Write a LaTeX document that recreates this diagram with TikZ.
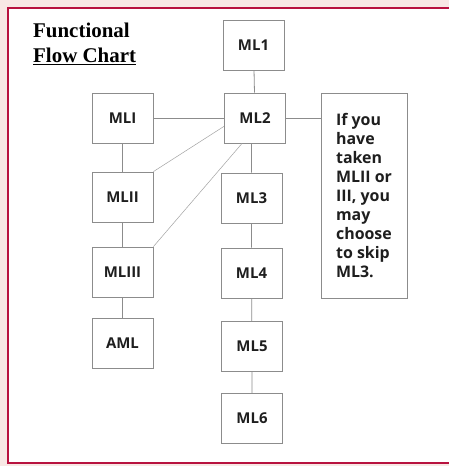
\documentclass[tikz,border=0pt]{standalone}
\usepackage{fontspec}
\setmainfont{Liberation Serif}
\setsansfont{Open Sans}
\definecolor{pagepink}{HTML}{F8E8E5}
\definecolor{framered}{HTML}{B8123F}
\definecolor{boxgray}{HTML}{8C8C8C}
\definecolor{labelgray}{HTML}{1E1E1E}
\tikzset{
  mlbox/.style={draw=boxgray, line width=0.8pt, fill=white, minimum width=61bp, minimum height=50bp,
    inner sep=0pt, text=labelgray, font=\sffamily\bfseries\fontsize{15}{17}\selectfont},
  notebox/.style={draw=boxgray, line width=0.8pt, fill=white, minimum width=86bp, minimum height=205bp,
    inner sep=0pt, align=left, text=labelgray, font=\sffamily\bfseries\fontsize{16}{19}\selectfont},
  link/.style={draw=boxgray, line width=0.8pt},
  thinlink/.style={draw=boxgray!80, line width=0.5pt}
}
\begin{document}
\begin{tikzpicture}[x=1bp, y=-1bp]
			\useasboundingbox (0,0) rectangle (449,466);
			% page and frame
			\fill[pagepink] (0,0) rectangle (449,466);
			\fill[white] (9,9) rectangle (449,462);
			\fill[framered] (7,7) rectangle (449,9.2);
			\fill[framered] (7,7) rectangle (9.2,464);
			\fill[framered] (7,461.8) rectangle (449,464);
			% title
			\node[anchor=north west, align=left, inner sep=0pt, font=\rmfamily\bfseries\fontsize{21}{25}\selectfont]
				(title) at (33,23) {Functional\\\underline{Flow Chart}};
			% left column
			\node[mlbox] (mli) at (122.5,118) {MLI};
			\node[mlbox] (mlii) at (122.5,197) {MLII};
			\node[mlbox] (mliii) at (122.5,272) {MLIII};
			\node[mlbox] (aml) at (122.5,343.5) {AML};
			% main column
			\node[mlbox] (ml1) at (253.5,45) {ML1};
			\node[mlbox] (ml2) at (255,118) {ML2};
			\node[mlbox] (ml3) at (251.5,198) {ML3};
			\node[mlbox] (ml4) at (251.5,273) {ML4};
			\node[mlbox] (ml5) at (252,346.5) {ML5};
			\node[mlbox] (ml6) at (252,418.5) {ML6};
			% note
			\node[notebox] (note) at (364,195.5) {If you\\have\\taken\\MLII or\\III, you\\may\\choose\\to skip\\ML3.};
			% connectors
			\draw[link] (ml1) -- (ml2);
			\draw[link] (mli) -- (ml2);
			\draw[link] (ml2) -- (note.west |- ml2);
			\draw[link] (ml2.south -| ml3) -- (ml3) -- (ml4) -- (ml5) -- (ml6);
			\draw[link] (mli) -- (mlii) -- (mliii) -- (aml);
			\draw[thinlink] (mlii.north east) -- (ml2.195);
			\draw[thinlink] (mliii.north east) -- (ml2.243);
		\end{tikzpicture}
\end{document}
